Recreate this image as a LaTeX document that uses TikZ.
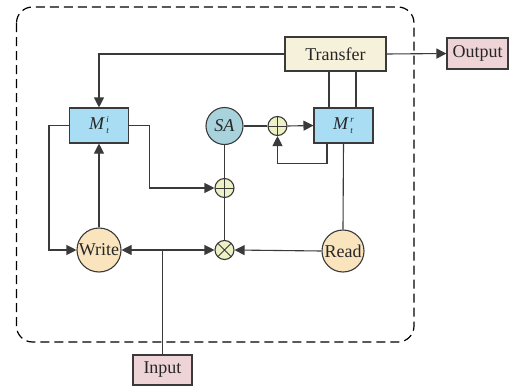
\documentclass[tikz,border=0pt]{standalone}
\usepackage{fontspec}
\setmainfont{Liberation Serif}
\usetikzlibrary{arrows.meta}
\definecolor{ln}{HTML}{3A3A3A}
\definecolor{mblue}{HTML}{A9DDF3}
\definecolor{sablue}{HTML}{A8D3DD}
\definecolor{trans}{HTML}{F5F1DB}
\definecolor{iobox}{HTML}{EED4D6}
\definecolor{rw}{HTML}{F9E4BE}
\definecolor{opc}{HTML}{EEF1C3}
\newcommand\Mlab[2]{\textit{M}\kern1.5pt\raisebox{-4pt}{\fontsize{9}{11.5}\selectfont\itshape\begin{tabular}[b]{@{}l@{}}#1\\#2\end{tabular}}}
\begin{document}
\begin{tikzpicture}[x=1pt,y=-1pt,
  every node/.style={font=\fontsize{18}{20}\selectfont, text=black!85, inner sep=0pt},
  base/.style={draw=ln, line width=1.1pt},
  mbox/.style={base, fill=mblue, minimum width=59pt, minimum height=35pt},
  tbox/.style={base, fill=trans, minimum width=101pt, minimum height=34pt},
  iob/.style={base, fill=iobox, minimum width=60pt, minimum height=31pt},
  rwc/.style={base, circle, fill=rw, minimum size=43pt},
  sac/.style={base, circle, fill=sablue, minimum size=37pt},
  plusc/.style={base, circle, fill=opc, minimum size=19pt,
    path picture={\draw[ln, line width=1pt] (path picture bounding box.north) -- (path picture bounding box.south)
      (path picture bounding box.west) -- (path picture bounding box.east);}},
  timesc/.style={base, circle, fill=opc, minimum size=19pt,
    path picture={\draw[ln, line width=1pt] (path picture bounding box.north west) -- (path picture bounding box.south east)
      (path picture bounding box.south west) -- (path picture bounding box.north east);}},
  conn/.style={draw=ln, line width=1.1pt},
  arr/.style={conn, -{Triangle[length=10pt, width=10pt]}}
]
\useasboundingbox (0,0) rectangle (509,388);
\draw[black, line width=1.2pt, dash pattern=on 9pt off 5pt, rounded corners=16pt] (16.5,7) rectangle (414,342);

\node[tbox] (transfer) at (335.5,54) {Transfer};
\node[iob, minimum width=61pt] (output) at (477.5,53.5) {Output};
\node[iob, minimum width=59pt, minimum height=30pt] (input) at (162.5,370) {Input};
\node[mbox] (mi) at (99,125.5) {\Mlab{i}{t}};
\node[mbox] (mr) at (343.5,125.5) {\Mlab{r}{t}};
\node[sac] (sa) at (224.5,126) {\textit{SA}};
\node[plusc] (p1) at (277.5,126) {};
\node[plusc] (p2) at (224.5,188) {};
\node[timesc] (ot) at (224.5,250) {};
\node[rwc, minimum size=44pt] (write) at (99,250) {Write};
\node[rwc, minimum size=42pt] (read) at (343,251) {Read};
\coordinate (j) at (162.5,250);

\draw[arr] (transfer.east) -- (output.west);
\draw[arr] (transfer.west) -| (mi.north);
\draw[conn] ([xshift=-14.5pt]mr.north) -- ++(0,-37);
\draw[conn] ([xshift=12.5pt]mr.north) -- ++(0,-37);
\draw[arr] (mi.west) -- ++(-20,0) |- (write.west);
\draw[arr] (write.north) -- (mi.south);
\draw[arr] (mi.east) -- ++(20,0) |- (p2.west);
\draw[conn] (sa.south) -- (p2.north);
\draw[conn] (p2.south) -- (ot.north);
\draw[conn] (sa.east) -- (p1.west);
\draw[arr] (p1.east) -- (mr.west);
\draw[arr] ([xshift=-16.5pt]mr.south) -- ++(0,20) -| (p1.south);
\draw[conn] (mr.south) -- (read.north);
\draw[arr] (read.west) -- (ot.east);
\draw[conn] (input.north) -- (j);
\draw[arr] (j) -- (write.east);
\draw[arr] (j) -- (ot.west);
\end{tikzpicture}
\end{document}
